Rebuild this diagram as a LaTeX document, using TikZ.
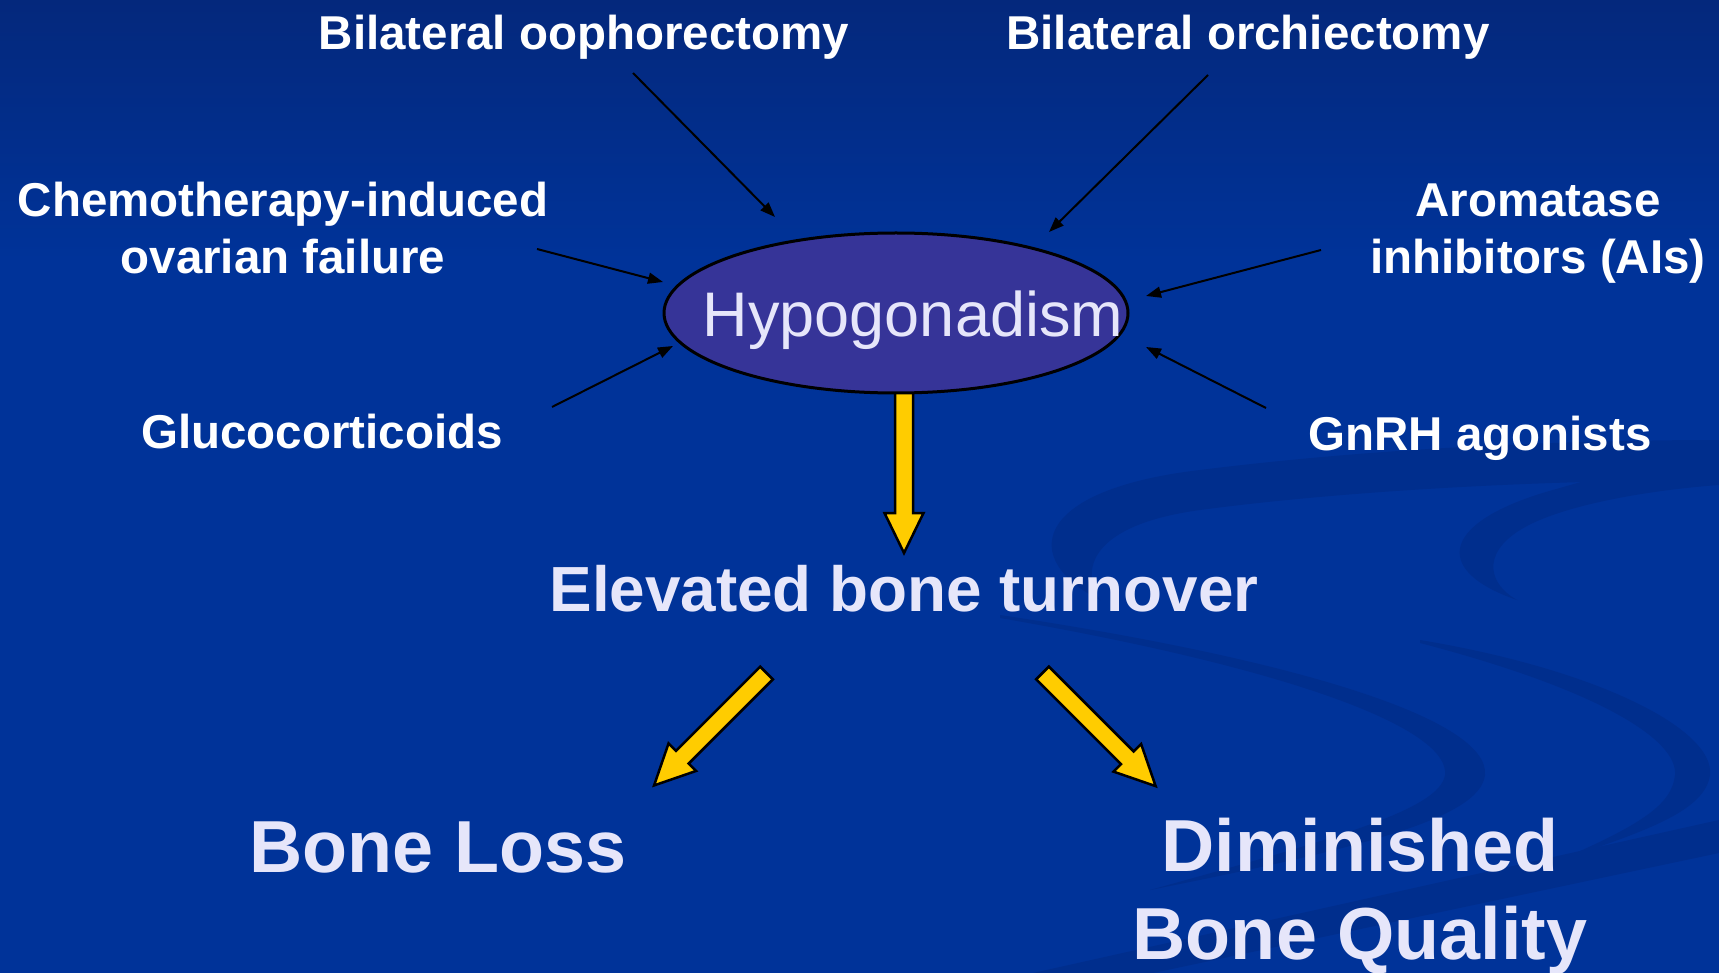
\documentclass[tikz,border=0pt]{standalone}
\usepackage{fontspec}
\setmainfont{Liberation Sans}
\usetikzlibrary{arrows.meta,shapes.geometric}
\definecolor{bgblue}{RGB}{0,51,153}
\definecolor{bgtop}{RGB}{4,40,124}
\definecolor{swirl}{RGB}{0,46,141}
\definecolor{ellfill}{RGB}{54,52,152}
\definecolor{lav}{RGB}{230,230,250}
\definecolor{gold}{RGB}{255,204,0}
\newcommand{\yblock}[3]{\draw[yarrow, shift={(#1)}, rotate=#2] (0,-9) -- ({#3-40},-9) -- ({#3-40},-19.5) -- (#3,0) -- ({#3-40},19.5) -- ({#3-40},9) -- (0,9) -- cycle;}
\begin{document}
\begin{tikzpicture}[x=1pt,y=-1pt,
  lbl/.style={text=white, font={\fontsize{47.5}{57}\selectfont\bfseries}, inner sep=0pt},
  big/.style={text=lav, font={\fontsize{73.7}{88}\selectfont\bfseries}, inner sep=0pt},
  mid/.style={text=lav, font={\fontsize{63.8}{76}\selectfont\bfseries}, inner sep=0pt},
  thinarrow/.style={draw=black, line width=2pt, -{Triangle[length=15pt,width=11pt]}},
  yarrow/.style={fill=gold, draw=black, line width=2.5pt, line join=miter},
  swirlshape/.style={fill=swirl, draw=none}]
\useasboundingbox (0,0) rectangle (1719,973);
% background
\fill[bgblue] (0,0) rectangle (1719,973);
\shade[top color=bgtop, bottom color=bgblue] (0,0) rectangle (1719,260);
% swirl decoration
\fill[swirlshape] (1100,600) .. controls (1020,560) and (1030,490) .. (1200,470)
  .. controls (1400,445) and (1600,440) .. (1719,440) -- (1719,480)
  .. controls (1550,480) and (1350,490) .. (1200,510)
  .. controls (1090,525) and (1080,570) .. (1100,600) -- cycle;
\fill[swirlshape] (1517,600) .. controls (1430,570) and (1440,520) .. (1560,488)
  .. controls (1620,470) and (1680,460) .. (1719,455) -- (1719,485)
  .. controls (1650,490) and (1560,505) .. (1520,530)
  .. controls (1480,555) and (1490,585) .. (1517,600) -- cycle;
\fill[swirlshape] (1000,615) .. controls (1300,660) and (1490,720) .. (1485,775)
  .. controls (1480,820) and (1350,850) .. (1150,890)
  .. controls (1330,840) and (1440,810) .. (1445,775)
  .. controls (1450,730) and (1300,670) .. (1000,618) -- cycle;
\fill[swirlshape] (1420,640) .. controls (1600,670) and (1715,730) .. (1710,775)
  .. controls (1705,810) and (1650,830) .. (1560,860)
  .. controls (1640,825) and (1672,805) .. (1675,775)
  .. controls (1678,740) and (1600,690) .. (1420,643) -- cycle;
\fill[swirlshape] (1033,973) -- (1719,820) -- (1719,853) -- (1153,973) -- cycle;
% yellow block arrows
\coordinate (vtail) at (904,386);
\coordinate (ltail) at (766.5,673);
\coordinate (rtail) at (1042.5,673);
\yblock{vtail}{-90}{167}
\yblock{ltail}{-135}{159}
\yblock{rtail}{-45}{160}
% central ellipse
\node[ellipse, draw=black, line width=3pt, fill=ellfill, minimum width=464pt, minimum height=160pt, inner sep=0pt] (hypo) at (896,313) {};
\node[anchor=base, text=lav, font={\fontsize{63}{76}\selectfont}, inner sep=0pt] (hypotxt) at (913,337) {Hypogonadism};
% labels
\node[lbl, anchor=base] (oop) at (584,50) {Bilateral oophorectomy};
\node[lbl, anchor=base] (orch) at (1248,50) {Bilateral orchiectomy};
\node[lbl, anchor=base] (chemo) at (283,217) {\begin{tabular}[t]{@{}c@{}}Chemotherapy-induced\\ovarian failure\end{tabular}};
\node[lbl, anchor=base] (arom) at (1538,217) {\begin{tabular}[t]{@{}c@{}}Aromatase\\inhibitors (AIs)\end{tabular}};
\node[lbl, anchor=base] (gluco) at (322,449) {Glucocorticoids};
\node[lbl, anchor=base] (gnrh) at (1480,450) {GnRH agonists};
\node[mid, anchor=base] (elev) at (904,611) {Elevated bone turnover};
\node[big, anchor=base] (loss) at (438,872) {Bone Loss};
\node[big, anchor=base] (dimq) at (1360,871) {\begin{tabular}[t]{@{}c@{}}Diminished\\Bone Quality\end{tabular}};
% thin black arrows
\coordinate (oopT) at (633,73);   \coordinate (oopH) at (775,217);
\coordinate (orchT) at (1208,75); \coordinate (orchH) at (1049,232);
\coordinate (chemoT) at (537,249); \coordinate (chemoH) at (663,282);
\coordinate (aromT) at (1321,250); \coordinate (aromH) at (1146,296);
\coordinate (glucoT) at (552,407); \coordinate (glucoH) at (673,346);
\coordinate (gnrhT) at (1266,408); \coordinate (gnrhH) at (1146,347);
\draw[thinarrow] (oopT) -- (oopH);
\draw[thinarrow] (orchT) -- (orchH);
\draw[thinarrow] (chemoT) -- (chemoH);
\draw[thinarrow] (aromT) -- (aromH);
\draw[thinarrow] (glucoT) -- (glucoH);
\draw[thinarrow] (gnrhT) -- (gnrhH);
\end{tikzpicture}
\end{document}
